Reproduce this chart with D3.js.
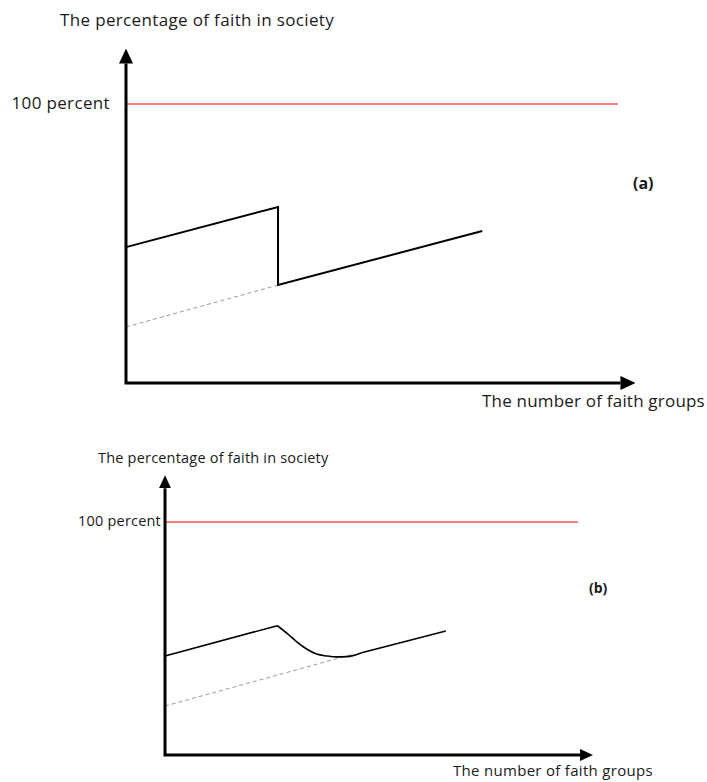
<!DOCTYPE html>
<html>
<head>
<meta charset="utf-8">
<script src="https://cdn.jsdelivr.net/npm/d3@7"></script>
<style>
  body { margin: 0; background: #fff; }
  text { font-family: "Open Sans", Lato, sans-serif; fill: #1a1a1a; }
</style>
</head>
<body>
<script>
// data, in chart units: x = number of faith groups, y = percent of faith
var fullFaith = 100;          // the red "100 percent" line
var xMax = 10;                // where the red line stops
var axisEnd = [10.05, 114.5]; // where the axis lines meet their arrow heads

// panel (a): jump down when a new group appears
var faithA = [[0, 48.7], [3.09, 63.1], [3.09, 35.1], [7.24, 54.5]];
var baseA = [[0, 20.1], [3.09, 35.1]];

// panel (b): smooth fall back to the base trend
var riseB = [[0, 42.5], [2.72, 55.5]];
var fallB = [[2.72, 55.5], [2.95, 52.3], [3.19, 48.6], [3.43, 45.5], [3.67, 43.3],
             [3.92, 42.5], [4.16, 42.1], [4.40, 42.2], [4.76, 43.9]];
var restB = [[4.76, 43.9], [6.80, 53.2]];
var baseB = [[0, 21.0], [4.5, 43.0]];

var yLabel = "The percentage of faith in society";
var xLabel = "The number of faith groups";
var refLabel = "100 percent";

var svg = d3.select("body").append("svg")
  .attr("width", 707)
  .attr("height", 782);

// arrow heads for the axes
var defs = svg.append("defs");
function arrow(id, len, wid) {
  defs.append("marker")
    .attr("id", id)
    .attr("markerUnits", "userSpaceOnUse")
    .attr("markerWidth", len)
    .attr("markerHeight", wid)
    .attr("refX", 0)
    .attr("refY", wid / 2)
    .attr("orient", "auto-start-reverse")
    .append("path")
      .attr("d", "M0,0L" + len + "," + (wid / 2) + "L0," + wid + "Z")
      .attr("fill", "#000");
}
arrow("arrA", 15, 14);
arrow("arrB", 13, 12);

function panel(p) {
  var x = d3.scaleLinear().domain([0, xMax]).range(p.xr);
  var y = d3.scaleLinear().domain([0, fullFaith]).range(p.yr);
  var line = d3.line().x(function(d) { return x(d[0]); }).y(function(d) { return y(d[1]); });

  var g = svg.append("g");

  //100 percent line
  g.append("path")
    .attr("d", line([[0, fullFaith], [xMax, fullFaith]]))
    .attr("fill", "none")
    .attr("stroke", "#ff5252")
    .attr("stroke-width", 1.3);

  //dashed base trend
  g.append("path")
    .attr("d", line(p.base))
    .attr("fill", "none")
    .attr("stroke", "#9a9a9a")
    .attr("stroke-width", 1)
    .attr("stroke-dasharray", "4,3");

  //faith lines
  p.solid.forEach(function(s) {
    g.append("path")
      .attr("d", line.curve(s.curve || d3.curveLinear)(s.pts))
      .attr("fill", "none")
      .attr("stroke", "#000")
      .attr("stroke-width", p.lw)
      .attr("stroke-linejoin", "miter");
  });
  line.curve(d3.curveLinear);

  //axes with arrows
  g.append("path")
    .attr("d", line([[0, axisEnd[1]], [0, 0], [axisEnd[0], 0]]))
    .attr("fill", "none")
    .attr("stroke", "#000")
    .attr("stroke-width", 3)
    .attr("stroke-linejoin", "miter")
    .attr("marker-start", "url(#" + p.arrow + ")")
    .attr("marker-end", "url(#" + p.arrow + ")");

  //labels
  g.append("text")
    .attr("x", p.title[0]).attr("y", p.title[1])
    .style("font-size", p.fs + "px")
    .style("letter-spacing", p.ls + "px")
    .text(yLabel);

  g.append("text")
    .attr("x", x(0) - p.refGap).attr("y", y(fullFaith) + p.fs * 0.3)
    .attr("text-anchor", "end")
    .style("font-size", p.fs + "px")
    .style("letter-spacing", p.ls + "px")
    .text(refLabel);

  g.append("text")
    .attr("x", p.xlab[0]).attr("y", p.xlab[1])
    .style("font-size", p.xfs + "px")
    .style("letter-spacing", p.xls + "px")
    .text(xLabel);

  g.append("text")
    .attr("x", p.tag[0]).attr("y", p.tag[1])
    .style("font-size", p.tagFs + "px")
    .style("font-weight", "bold")
    .text(p.name);
}

panel({
  name: "(a)", xr: [126, 618], yr: [383, 104], lw: 2, arrow: "arrA",
  base: baseA, solid: [{pts: faithA}],
  fs: 17, xfs: 17, ls: 0.35, xls: 0.2, tagFs: 16, refGap: 16,
  title: [60, 26], xlab: [482, 407], tag: [633, 189]
});

panel({
  name: "(b)", xr: [165, 578], yr: [755, 522], lw: 1.6, arrow: "arrB",
  base: baseB,
  solid: [{pts: riseB}, {pts: fallB, curve: d3.curveMonotoneX}, {pts: restB}],
  fs: 14.5, xfs: 15, ls: 0.2, xls: 0.3, tagFs: 14, refGap: 4,
  title: [98, 463], xlab: [453, 776], tag: [589, 593]
});
</script>
</body>
</html>
